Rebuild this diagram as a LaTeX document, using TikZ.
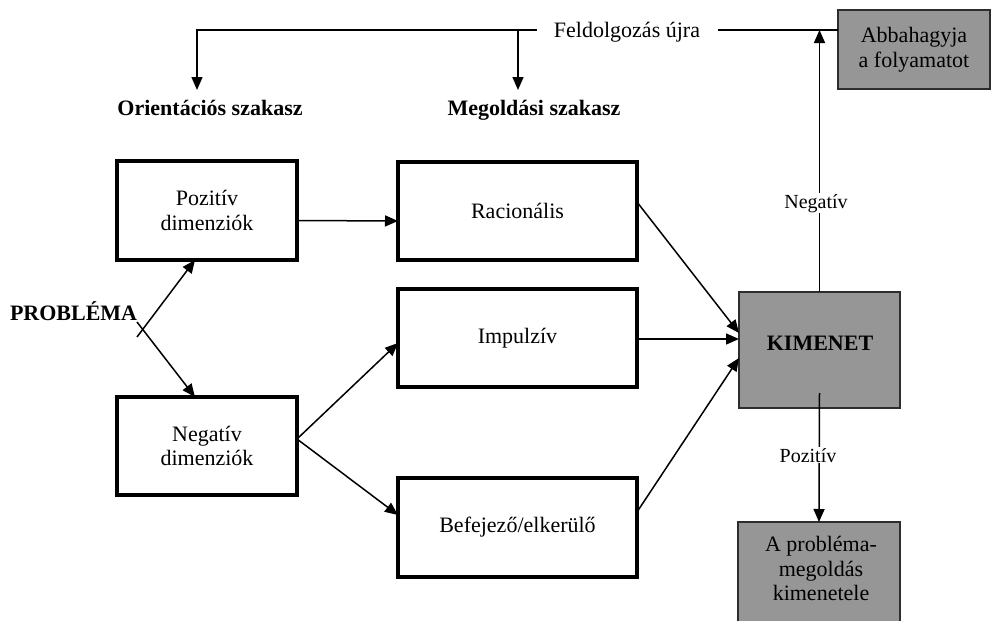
\documentclass[tikz,border=0pt]{standalone}
\usepackage{fontspec}
\setmainfont{Liberation Serif}
\usetikzlibrary{arrows.meta,calc}
\definecolor{boxgray}{RGB}{150,150,150}
\definecolor{edgegray}{RGB}{45,45,45}
\begin{document}
\begin{tikzpicture}[x=1pt,y=-1pt,
  every node/.style={font=\fontsize{22}{24.5}\selectfont, inner sep=0pt, outer sep=0pt},
  wbox/.style={draw=black, line width=3.8pt, fill=white, align=center},
  gbox/.style={draw=edgegray, line width=1.5pt, fill=boxgray, align=center},
  ln/.style={line width=1.5pt},
  arr/.style={line width=1.5pt, -{Triangle[length=13pt,width=11pt]}},
  bold/.style={font=\fontsize{22}{24.5}\selectfont\bfseries},
  lab/.style={font=\fontsize{20}{22}\selectfont, fill=white, inner sep=1pt}
]
\path[use as bounding box] (0,0) rectangle (991,621);
\clip (0,0) rectangle (991,621);

% boxes
\node[wbox, minimum width=180pt, minimum height=99pt] (poz) at (207,210.5) {Pozitív\\dimenziók};
\node[wbox, minimum width=180pt, minimum height=98pt] (neg) at (207,446) {Negatív\\dimenziók};
\node[wbox, minimum width=239pt, minimum height=98pt] (rac) at (517.5,211) {Racionális};
\node[wbox, minimum width=239pt, minimum height=98pt] (imp) at (517.5,338) {Impulzív};
\node[wbox, minimum width=239pt, minimum height=99pt] (bef) at (517.5,527.5) {Befejező/elkerülő};
\node[gbox, minimum width=161pt, minimum height=116pt] (kim) at (819.5,350) {};
\node[bold, anchor=base] (kimt) at (820,350) {KIMENET};
\node[gbox, minimum width=162pt, minimum height=112pt, anchor=north] (apm) at (819,522) {};
\node[align=center, anchor=north] (apmt) at (821,536.5) {A probléma-\\megoldás\\kimenetele};
\node[gbox, minimum width=152pt, minimum height=79pt] (abb) at (914,49.5) {Abbahagyja\\a folyamatot};

% labels
\node[bold, anchor=base west] (prob) at (10,320) {PROBLÉMA};
\node[bold, anchor=base] (ori) at (210,115) {Orientációs szakasz};
\node[bold, anchor=base] (meg) at (534,115) {Megoldási szakasz};
\node[anchor=base] (fu) at (627,37) {Feldolgozás újra};

% coordinates
\coordinate (p1) at (137,337);
\coordinate (p2) at (137,322);
\coordinate (fl) at (537,30);
\coordinate (oa) at (197,90);
\coordinate (ma) at (518,90);
\coordinate (hl) at (718,30);
\coordinate (hr) at ([yshift=19.5pt]abb.west);
\coordinate (nf) at ([yshift=7pt]neg.east);
\coordinate (ks) at ([yshift=-43pt]kim.center);

% problem arrows
\draw[arr] (p1) -- ([xshift=78pt]poz.south west);
\draw[arr] (p2) -- ([xshift=78pt]neg.north west);

% orientation -> solution
\draw[arr] ([yshift=-10pt]poz.east) -- ([yshift=-10pt]rac.west);
\draw[arr] (nf) -- ([yshift=-5pt]imp.west);
\draw[arr] (nf) -- ([yshift=12.5pt]bef.west);

% solution -> output
\draw[arr] ([yshift=9pt]rac.east) -- ([yshift=17pt]kim.west);
\draw[arr] ([yshift=-1pt]imp.east) -- ([yshift=11pt]kim.west);
\draw[arr] ([yshift=15.5pt]bef.east) -- ([yshift=-8pt]kim.west);

% output -> outcomes
\draw[arr] (ks) -- (apm.north);
\node[lab, anchor=base] (pozl) at (808,462) {Pozitív};
\draw[arr] (kim.north) -- (kim.north |- hr);
\node[lab, anchor=base] (negl) at (816,208) {Negatív};
\draw[ln] (hl) -- (hr);

% reprocessing
\draw[arr] (fl) -| (oa);
\draw[arr] (ma |- fl) -- (ma);
\end{tikzpicture}
\end{document}
